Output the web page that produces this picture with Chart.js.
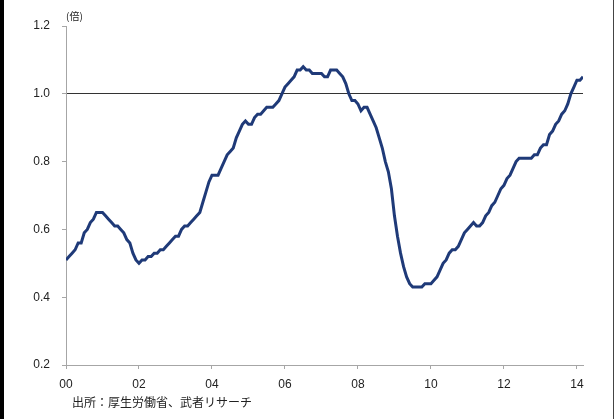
<!DOCTYPE html>
<html>
<head>
<meta charset="utf-8">
<script src="https://cdn.jsdelivr.net/npm/chart.js@4.4.0/dist/chart.umd.min.js"></script>
<style>
  html, body { margin: 0; padding: 0; background: #fff; }
  canvas { display: block; }
  .edge { position: fixed; top: 0; bottom: 0; z-index: 10; }
  #edgeLeft { left: 0; width: 4px; background: #000; }
  #edgeRight { right: 0; width: 1px; background: #444; }
</style>
</head>
<body>
<div class="edge" id="edgeLeft"></div>
<div class="edge" id="edgeRight"></div>
<canvas id="lineChart" width="614" height="419"></canvas>
<script>
// 有効求人倍率 (monthly, Jan 2000 - Mar 2014)
const ratio2000 = [0.51, 0.52, 0.53, 0.54, 0.56, 0.56, 0.59, 0.60, 0.62, 0.63, 0.65, 0.65];
const ratio2001 = [0.65, 0.64, 0.63, 0.62, 0.61, 0.61, 0.60, 0.59, 0.57, 0.56, 0.53, 0.51];
const ratio2002 = [0.50, 0.51, 0.51, 0.52, 0.52, 0.53, 0.53, 0.54, 0.54, 0.55, 0.56, 0.57];
const ratio2003 = [0.58, 0.58, 0.60, 0.61, 0.61, 0.62, 0.63, 0.64, 0.65, 0.68, 0.71, 0.74];
const ratio2004 = [0.76, 0.76, 0.76, 0.78, 0.80, 0.82, 0.83, 0.84, 0.87, 0.89, 0.91, 0.92];
const ratio2005 = [0.91, 0.91, 0.93, 0.94, 0.94, 0.95, 0.96, 0.96, 0.96, 0.97, 0.98, 1.00];
const ratio2006 = [1.02, 1.03, 1.04, 1.05, 1.07, 1.07, 1.08, 1.07, 1.07, 1.06, 1.06, 1.06];
const ratio2007 = [1.06, 1.05, 1.05, 1.07, 1.07, 1.07, 1.06, 1.05, 1.03, 1.00, 0.98, 0.98];
const ratio2008 = [0.97, 0.95, 0.96, 0.96, 0.94, 0.92, 0.90, 0.87, 0.84, 0.80, 0.77, 0.72];
const ratio2009 = [0.64, 0.58, 0.53, 0.49, 0.46, 0.44, 0.43, 0.43, 0.43, 0.43, 0.44, 0.44];
const ratio2010 = [0.44, 0.45, 0.46, 0.48, 0.50, 0.51, 0.53, 0.54, 0.54, 0.55, 0.57, 0.59];
const ratio2011 = [0.60, 0.61, 0.62, 0.61, 0.61, 0.62, 0.64, 0.65, 0.67, 0.68, 0.70, 0.72];
const ratio2012 = [0.73, 0.75, 0.76, 0.78, 0.80, 0.81, 0.81, 0.81, 0.81, 0.81, 0.82, 0.82];
const ratio2013 = [0.84, 0.85, 0.85, 0.88, 0.89, 0.91, 0.92, 0.94, 0.95, 0.97, 1.00, 1.02];
const ratio2014 = [1.04, 1.04, 1.05];

const yearTickLabels = ['00', '02', '04', '06', '08', '10', '12', '14'];
const yTicks = [0.2, 0.4, 0.6, 0.8, 1.0, 1.2];

const ratio = [].concat(ratio2000, ratio2001, ratio2002, ratio2003, ratio2004,
  ratio2005, ratio2006, ratio2007, ratio2008, ratio2009, ratio2010, ratio2011,
  ratio2012, ratio2013, ratio2014);
const points = ratio.map((v, i) => ({ x: i, y: v }));

// frame, unit label and source
const notes = {
  id: 'notes',
  beforeDraw(chart) {
    const c = chart.ctx;
    c.save();
    c.fillStyle = '#000';
    c.fillRect(0, 0, 4, chart.height);
    c.restore();
  },
  afterDraw(chart) {
    const c = chart.ctx;
    c.save();
    c.fillStyle = '#222';
    c.textBaseline = 'middle';
    c.font = '10px "Noto Sans CJK JP"';
    c.fillText('(倍)', 66, 16);
    c.font = '12px "Noto Sans CJK JP"';
    c.fillText('出所：厚生労働省、武者リサーチ', 72, 402);
    c.restore();
  }
};

const ctx = document.getElementById('lineChart').getContext('2d');
new Chart(ctx, {
  type: 'line',
  data: {
    datasets: [{
      data: points,
      borderColor: '#1f3a78',
      borderWidth: 3,
      pointRadius: 0,
      tension: 0,
      fill: false
    }]
  },
  plugins: [notes],
  options: {
    responsive: false,
    animation: false,
    events: [],
    layout: { padding: { top: 26, right: 31, left: 0, bottom: 0 } },
    plugins: { legend: { display: false }, tooltip: { enabled: false } },
    scales: {
      x: {
        type: 'linear',
        min: 0,
        max: 170,
        afterBuildTicks: s => { s.ticks = yearTickLabels.map((t, k) => ({ value: k * 24 })); },
        afterFit: s => { s.height = 54; },
        border: { color: '#a6a6a6', width: 1 },
        grid: { drawOnChartArea: false, tickLength: 4, color: '#a6a6a6' },
        ticks: {
          padding: 8,
          maxRotation: 0,
          autoSkip: false,
          color: '#222',
          font: { family: '"Liberation Sans", Arial', size: 12 },
          callback: (v) => yearTickLabels[Math.round(v / 24)]
        }
      },
      y: {
        min: 0.2,
        max: 1.2,
        afterBuildTicks: s => { s.ticks = yTicks.map(v => ({ value: v })); },
        afterFit: s => { s.width = 66; },
        border: { color: '#a6a6a6', width: 1 },
        grid: {
          tickLength: 4,
          lineWidth: 1,
          color: c => (c.tick && Math.abs(c.tick.value - 1.0) < 1e-6) ? '#333' : 'rgba(0,0,0,0)',
          tickColor: '#a6a6a6'
        },
        ticks: {
          padding: 12,
          color: '#222',
          font: { family: '"Liberation Sans", Arial', size: 12 },
          callback: v => v.toFixed(1)
        }
      }
    }
  }
});
</script>
</body>
</html>
